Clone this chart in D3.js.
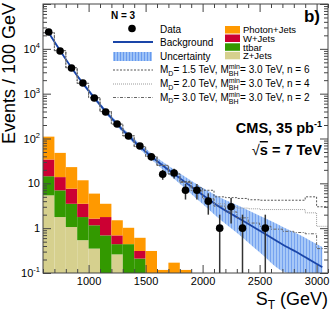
<!DOCTYPE html>
<html>
<head>
<meta charset="utf-8">
<script src="https://cdn.jsdelivr.net/npm/d3@7"></script>
<style>
body { margin: 0; background: #fff; }
text { font-family: "Liberation Sans", Arial, Helvetica, sans-serif; fill: #000; }
</style>
</head>
<body>
<div id="chart"></div>
<script>
// ---- data ----
// lower edges of the 100 GeV bins
var binLow = [600,700,800,900,1000,1100,1200,1300,1400,1500,1600,1700,1800,1900,2000,2100,2200,2300,2400,2500,2600,2700,2800,2900,3000];

// observed events (bin centres)
var dataST = [650,750,850,950,1050,1150,1250,1350,1450,1550,1650,1750,1850,1950,2050,2150,2250,2350,2550];
var dataN  = [23800,8950,3740,1730,800,390,211,114,68,39,16,17,7,7,4,1,3,1,1];

// background fit and its uncertainty band
var bgST  = [650,750,850,950,1050,1150,1250,1350,1450,1550,1650,1750,1850,1950,2050,2150,2250,2350,2450,2550,2650,2750,2850,2950,3050];
var bgVal = [22900,9120,3800,1700,813,398,209,115,66,39.8,25.1,16.2,10.5,6.8,4.5,2.95,2.09,1.48,1.05,0.74,0.52,0.37,0.27,0.19,0.135];
var bandHi = [24500,9770,4070,1840,891,442,234,130,75.9,46.8,30.2,20.4,13.8,9.55,6.76,4.9,3.72,2.88,2.19,1.66,1.26,0.93,0.71,0.52,0.38];
var bandLo = [21400,8510,3550,1570,741,359,186,101,57.5,33.9,20.4,12.6,7.59,4.47,2.69,1.58,1.0,0.62,0.37,0.224,0.132,0.074,0.043,0.024,0.0135];

// stacked MC backgrounds, bins 600..1800
var stackLow = [600,700,800,900,1000,1100,1200,1300,1400,1500,1600,1700,1800];
var zjets  = [5.4,1.77,1.06,0.54,0.35,0,0.26,0,0,0,0,0,0];
var ttbar  = [9.0,5.2,2.44,1.23,0.81,0.69,0.18,0.44,0.21,0,0,0,0];
var wjets  = [19.6,6.8,4.1,1.73,0.47,1.08,0.25,0,0.10,0,0,0,0];
var photon = [76,34,15.4,8.2,4.27,1.73,0.81,0.58,0.30,0.31,0.117,0.17,0.117];

// background + black hole signal, one value per bin in binLow
var sigA = [22900,9120,3800,1700,813,398,209,115,66,39.8,25.1,16.2,11,8,7.0,5.0,4.8,4.6,4.3,4.2,4.2,4.2,4.2,5.0,3.0];
var sigB = [22900,9120,3800,1700,813,398,209,115,66,39.8,25.1,16.2,10.5,7,4.6,3.5,3.0,2.8,2.7,2.6,2.6,2.6,2.6,2.2,1.1];
var sigC = [22900,9120,3800,1700,813,398,209,115,66,39.8,25.1,16.2,10.5,6.8,4.5,3.1,2.3,1.7,1.3,1.1,0.95,0.85,0.8,0.75,0.35];

var xMajor = [1000,1500,2000,2500,3000];
var yDecades = [0.1,1,10,100,1000,10000];
var yLabels = [["10","-1"],["1",""],["10",""],["10","2"],["10","3"],["10","4"]];

var stackKeys = ["zjets","ttbar","wjets","photon"];
var stackNames = {photon:"Photon+Jets", wjets:"W+Jets", ttbar:"ttbar", zjets:"Z+Jets"};
var stackColors = {photon:"#ff9900", wjets:"#cc0033", ttbar:"#339900", zjets:"#d6d08e"};

// ---- layout ----
var W = 332, H = 314;
var L = 43, R = 328, T = 4, B = 273;

var svg = d3.select("#chart").append("svg").attr("width", W).attr("height", H);

var x = d3.scaleLinear().domain([600, 3100]).range([L, R]);
var y = d3.scaleLog().domain([0.1, 1e5]).range([B, T]).clamp(true);
var yv = function(v) { return y(Math.max(v, 1e-3)); };

var defs = svg.append("defs");
defs.append("clipPath").attr("id", "plotclip")
  .append("rect").attr("x", L).attr("y", T).attr("width", R - L).attr("height", B - T);

var pat = defs.append("pattern").attr("id", "hatch")
  .attr("patternUnits", "userSpaceOnUse").attr("width", 3).attr("height", 3);
pat.append("rect").attr("width", 3).attr("height", 3).attr("fill", "#9dc2f6");
pat.append("line").attr("x1", 0.5).attr("x2", 0.5).attr("y1", 0).attr("y2", 3)
  .attr("stroke", "#6799ee").attr("stroke-width", 1);

var plot = svg.append("g").attr("clip-path", "url(#plotclip)");

// stacked histograms
var rows = stackLow.map(function(b, i) {
  return {bin: b, zjets: zjets[i], ttbar: ttbar[i], wjets: wjets[i], photon: photon[i]};
});
var stacked = d3.stack().keys(stackKeys)(rows);
stacked.forEach(function(layer) {
  plot.append("g").selectAll("rect")
    .data(layer.filter(function(d) { return d[1] > d[0]; }))
    .join("rect")
    .attr("x", function(d) { return x(d.data.bin); })
    .attr("width", function(d) { return x(d.data.bin + 100) - x(d.data.bin); })
    .attr("y", function(d) { return yv(d[1]); })
    .attr("height", function(d) { return yv(d[0]) - yv(d[1]); })
    .attr("fill", stackColors[layer.key]);
});

// uncertainty band
var band = d3.area()
  .x(function(d, i) { return x(bgST[i]); })
  .y0(function(d, i) { return yv(bandLo[i]); })
  .y1(function(d, i) { return yv(bandHi[i]); })
  .curve(d3.curveMonotoneX);
plot.append("path").attr("d", band(bgST)).attr("fill", "url(#hatch)").attr("opacity", 0.9);

// background fit
var bgLine = d3.line()
  .x(function(d, i) { return x(bgST[i]); })
  .y(function(d, i) { return yv(bgVal[i]); })
  .curve(d3.curveMonotoneX);
plot.append("path").attr("d", bgLine(bgST))
  .attr("fill", "none").attr("stroke", "#1a45a8").attr("stroke-width", 1.8);

// signal step histograms
var sigStyles = [
  {vals: sigA, color: "#555", dash: "2,1.5"},
  {vals: sigB, color: "#9a9a9a", dash: "1,1"},
  {vals: sigC, color: "#666", dash: "3,1.5,1,1.5"}
];
var step = d3.line().x(function(d) { return x(d[0]); }).y(function(d) { return yv(d[1]); })
  .curve(d3.curveStepAfter);
sigStyles.forEach(function(s) {
  var pts = binLow.map(function(b, i) { return [b, s.vals[i]]; });
  pts.push([3100, s.vals[s.vals.length - 1]]);
  plot.append("path").attr("d", step(pts))
    .attr("fill", "none").attr("stroke", s.color).attr("stroke-width", 1)
    .attr("stroke-dasharray", s.dash);
});

// data with sqrt(N) errors
var pts = dataST.map(function(st, i) { return {st: st, n: dataN[i]}; });
plot.append("g").selectAll("line").data(pts).join("line")
  .attr("x1", function(d) { return x(d.st); }).attr("x2", function(d) { return x(d.st); })
  .attr("y1", function(d) { return yv(d.n + Math.sqrt(d.n)); })
  .attr("y2", function(d) { return yv(d.n - Math.sqrt(d.n)); })
  .attr("stroke", "#333").attr("stroke-width", 1.5);
plot.append("g").selectAll("circle").data(pts).join("circle")
  .attr("cx", function(d) { return x(d.st); }).attr("cy", function(d) { return yv(d.n); })
  .attr("r", 3.8).attr("fill", "#000");

// ---- axes ----
function minorX() {
  return d3.range(600, 3101, 100).filter(function(v) { return xMajor.indexOf(v) < 0; });
}
function minorY() {
  var m = [];
  yDecades.concat([1e5]).forEach(function(d) {
    for (var k = 2; k <= 9; k++) if (d * k < 1e5) m.push(d * k);
  });
  return m;
}
function styleAxis(g) {
  g.select(".domain").remove();
  g.selectAll(".tick line").attr("stroke", "#444");
}

svg.append("g").attr("transform", "translate(0," + B + ")")
  .call(d3.axisBottom(x).tickValues(xMajor).tickSize(-8).tickSizeOuter(0).tickPadding(4).tickFormat(d3.format("d")))
  .call(styleAxis)
  .selectAll("text").style("font-size", "11px").attr("fill", "#000")
  .style("font-family", "Liberation Sans, Arial, sans-serif");
svg.append("g").attr("transform", "translate(0," + B + ")")
  .call(d3.axisBottom(x).tickValues(minorX()).tickSize(-4).tickSizeOuter(0).tickFormat(""))
  .call(styleAxis);
svg.append("g").attr("transform", "translate(0," + T + ")")
  .call(d3.axisTop(x).tickValues(xMajor).tickSize(-8).tickSizeOuter(0).tickFormat(""))
  .call(styleAxis);
svg.append("g").attr("transform", "translate(0," + T + ")")
  .call(d3.axisTop(x).tickValues(minorX()).tickSize(-4).tickSizeOuter(0).tickFormat(""))
  .call(styleAxis);

svg.append("g").attr("transform", "translate(" + L + ",0)")
  .call(d3.axisLeft(y).tickValues(yDecades.concat([1e5])).tickSize(-8).tickSizeOuter(0).tickFormat(""))
  .call(styleAxis);
svg.append("g").attr("transform", "translate(" + L + ",0)")
  .call(d3.axisLeft(y).tickValues(minorY()).tickSize(-4).tickSizeOuter(0).tickFormat(""))
  .call(styleAxis);
svg.append("g").attr("transform", "translate(" + R + ",0)")
  .call(d3.axisRight(y).tickValues(yDecades.concat([1e5])).tickSize(-8).tickSizeOuter(0).tickFormat(""))
  .call(styleAxis);
svg.append("g").attr("transform", "translate(" + R + ",0)")
  .call(d3.axisRight(y).tickValues(minorY()).tickSize(-4).tickSizeOuter(0).tickFormat(""))
  .call(styleAxis);

svg.append("rect").attr("x", L).attr("y", T).attr("width", R - L).attr("height", B - T)
  .attr("fill", "none").attr("stroke", "#444").attr("stroke-width", 1);

// y tick labels with exponents
yDecades.forEach(function(d, i) {
  var t = svg.append("text").attr("x", 40).attr("y", y(d) + 4)
    .attr("text-anchor", "end").style("font-size", "11px");
  t.append("tspan").text(yLabels[i][0]);
  if (yLabels[i][1]) t.append("tspan").attr("dy", -5).style("font-size", "7.5px").text(yLabels[i][1]);
});

// axis titles
svg.append("text").attr("transform", "translate(15,3) rotate(-90)")
  .attr("text-anchor", "end").style("font-size", "18px").text("Events / 100 GeV");
var xt = svg.append("text").attr("x", 328).attr("y", 305).attr("text-anchor", "end").style("font-size", "18px");
xt.append("tspan").text("S");
xt.append("tspan").attr("dy", 4).style("font-size", "12px").text("T");
xt.append("tspan").attr("dy", -4).text(" (GeV)");

// ---- legend ----
var lg = svg.append("g");
lg.append("text").attr("x", 123).attr("y", 19).attr("text-anchor", "middle")
  .style("font-size", "10px").style("font-weight", "bold").text("N = 3");
lg.append("text").attr("x", 320).attr("y", 22).attr("text-anchor", "end")
  .style("font-size", "17px").style("font-weight", "bold").text("b)");

lg.append("circle").attr("cx", 132).attr("cy", 28.5).attr("r", 3.8).attr("fill", "#000");
lg.append("text").attr("x", 160).attr("y", 32.5).style("font-size", "10px").text("Data");
lg.append("line").attr("x1", 113).attr("x2", 153).attr("y1", 42).attr("y2", 42)
  .attr("stroke", "#1a45a8").attr("stroke-width", 1.8);
lg.append("text").attr("x", 160).attr("y", 45.5).style("font-size", "10px").text("Background");
lg.append("rect").attr("x", 113).attr("y", 52).attr("width", 39).attr("height", 9).attr("fill", "url(#hatch)");
lg.append("text").attr("x", 160).attr("y", 59.5).style("font-size", "10px").text("Uncertainty");

function rich(g, x0, y0, parts) {
  var cx = x0, stackStart = 0;
  parts.forEach(function(p) {
    var el = g.append("text").attr("x", p.stack ? stackStart : cx).attr("y", y0 + (p.dy || 0))
      .style("font-size", (p.size || 10) + "px").text(p.t);
    var w = el.node().getComputedTextLength();
    if (p.stackBegin) { stackStart = cx; cx += w; }
    else if (p.stack) { cx = Math.max(cx, stackStart + w); }
    else cx += w;
  });
}
var sigLabels = [["1.5", "6"], ["2.0", "4"], ["3.0", "2"]];
var sigRowY = [70, 84, 97.5];
sigStyles.forEach(function(s, i) {
  lg.append("line").attr("x1", 113).attr("x2", 153).attr("y1", sigRowY[i]).attr("y2", sigRowY[i])
    .attr("stroke", s.color).attr("stroke-width", 1).attr("stroke-dasharray", s.dash);
  rich(lg, 160, sigRowY[i] + 3, [
    {t: "M"}, {t: "D", size: 7, dy: 2.5},
    {t: " = " + sigLabels[i][0] + " TeV, M"},
    {t: "min", size: 7, dy: -4, stackBegin: true},
    {t: "BH", size: 7, dy: 3, stack: true},
    {t: " = 3.0 TeV, n = " + sigLabels[i][1]}
  ]);
});

var colKeys = ["photon", "wjets", "ttbar", "zjets"];
var colY = [26, 34.5, 43.3, 51.8];
colKeys.forEach(function(k, i) {
  lg.append("rect").attr("x", 225).attr("y", colY[i]).attr("width", 15).attr("height", 7.5)
    .attr("fill", stackColors[k]);
  lg.append("text").attr("x", 243).attr("y", colY[i] + 7.3).style("font-size", "9.5px").text(stackNames[k]);
});

// CMS label
var c1 = svg.append("text").attr("x", 322).attr("y", 133).attr("text-anchor", "end")
  .style("font-size", "14.5px").style("font-weight", "bold");
c1.append("tspan").text("CMS, 35 pb");
c1.append("tspan").attr("dy", -6).style("font-size", "9px").text("-1");
var c2 = svg.append("text").attr("x", 322).attr("y", 155).attr("text-anchor", "end")
  .style("font-size", "14.5px").style("font-weight", "bold");
c2.append("tspan").style("font-weight", "normal").text("\u221A");
c2.append("tspan").style("text-decoration", "overline").text("s");
c2.append("tspan").text(" = 7 TeV");
</script>
</body>
</html>
